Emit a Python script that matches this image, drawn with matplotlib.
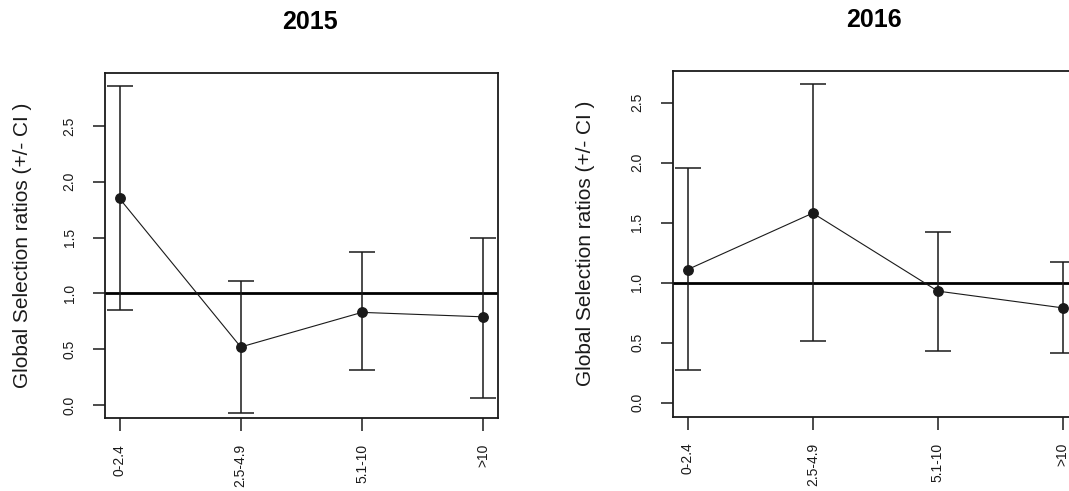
import matplotlib
matplotlib.use("Agg")
import matplotlib.pyplot as plt

plt.rcParams['font.family'] = ['Liberation Sans', 'DejaVu Sans']

classes = ["0-2.4", "2.5-4.9", "5.1-10", ">10"]

# 2015
sr_2015 = [1.85, 0.52, 0.83, 0.79]
lo_2015 = [0.85, -0.075, 0.31, 0.06]
hi_2015 = [2.86, 1.11, 1.37, 1.50]

# 2016
sr_2016 = [1.11, 1.58, 0.93, 0.79]
lo_2016 = [0.27, 0.51, 0.43, 0.41]
hi_2016 = [1.96, 2.66, 1.42, 1.17]

col = "#1a1a1a"

fig = plt.figure(figsize=(10.69, 4.91), dpi=100)
ax1 = fig.add_axes([0.0982, 0.148, 0.3674, 0.704])
ax2 = fig.add_axes([0.6293, 0.1513, 0.379, 0.7047])


def panel(ax, sr, lo, hi, ylim, labx):
    x = list(range(1, len(classes) + 1))
    yerr = [[s - l for s, l in zip(sr, lo)], [h - s for s, h in zip(sr, hi)]]
    ax.errorbar(x, sr, yerr=yerr, fmt='none', ecolor=col, elinewidth=1.1,
                capsize=9.6, capthick=1.1, zorder=2)
    ax.plot(x, sr, color=col, lw=0.8, marker='o', ms=6.8, zorder=3)
    ax.axhline(1.0, color='black', lw=2, zorder=1)
    ax.set_xlim(0.88, 4.12)
    ax.set_ylim(*ylim)
    ax.set_xticks(x)
    ax.set_xticklabels(classes, rotation=90, fontsize=10, va='top')
    ax.set_yticks([0.0, 0.5, 1.0, 1.5, 2.0, 2.5])
    ax.set_yticklabels(["0.0", "0.5", "1.0", "1.5", "2.0", "2.5"],
                       rotation=90, fontsize=10, va='center')
    ax.tick_params(axis='y', length=8.5, width=1.1, pad=12, colors=col)
    ax.tick_params(axis='x', length=9, width=1.1, pad=9.5, colors=col)
    for s in ax.spines.values():
        s.set_linewidth(1.3)
        s.set_color(col)
    ax.set_ylabel("Global Selection ratios (+/- CI )", fontsize=15, color=col)
    ax.yaxis.set_label_coords(labx, 0.5)


panel(ax1, sr_2015, lo_2015, hi_2015, (-0.119, 2.977), -0.187)
panel(ax2, sr_2016, lo_2016, hi_2016, (-0.117, 2.767), -0.192)

fig.text(310 / 1069, 1 - 21.7 / 491, "2015", ha='center', va='center',
         fontsize=18, fontweight='bold')
fig.text(874 / 1069, 1 - 20 / 491, "2016", ha='center', va='center',
         fontsize=18, fontweight='bold')

fig.savefig("out.png", dpi=100)
